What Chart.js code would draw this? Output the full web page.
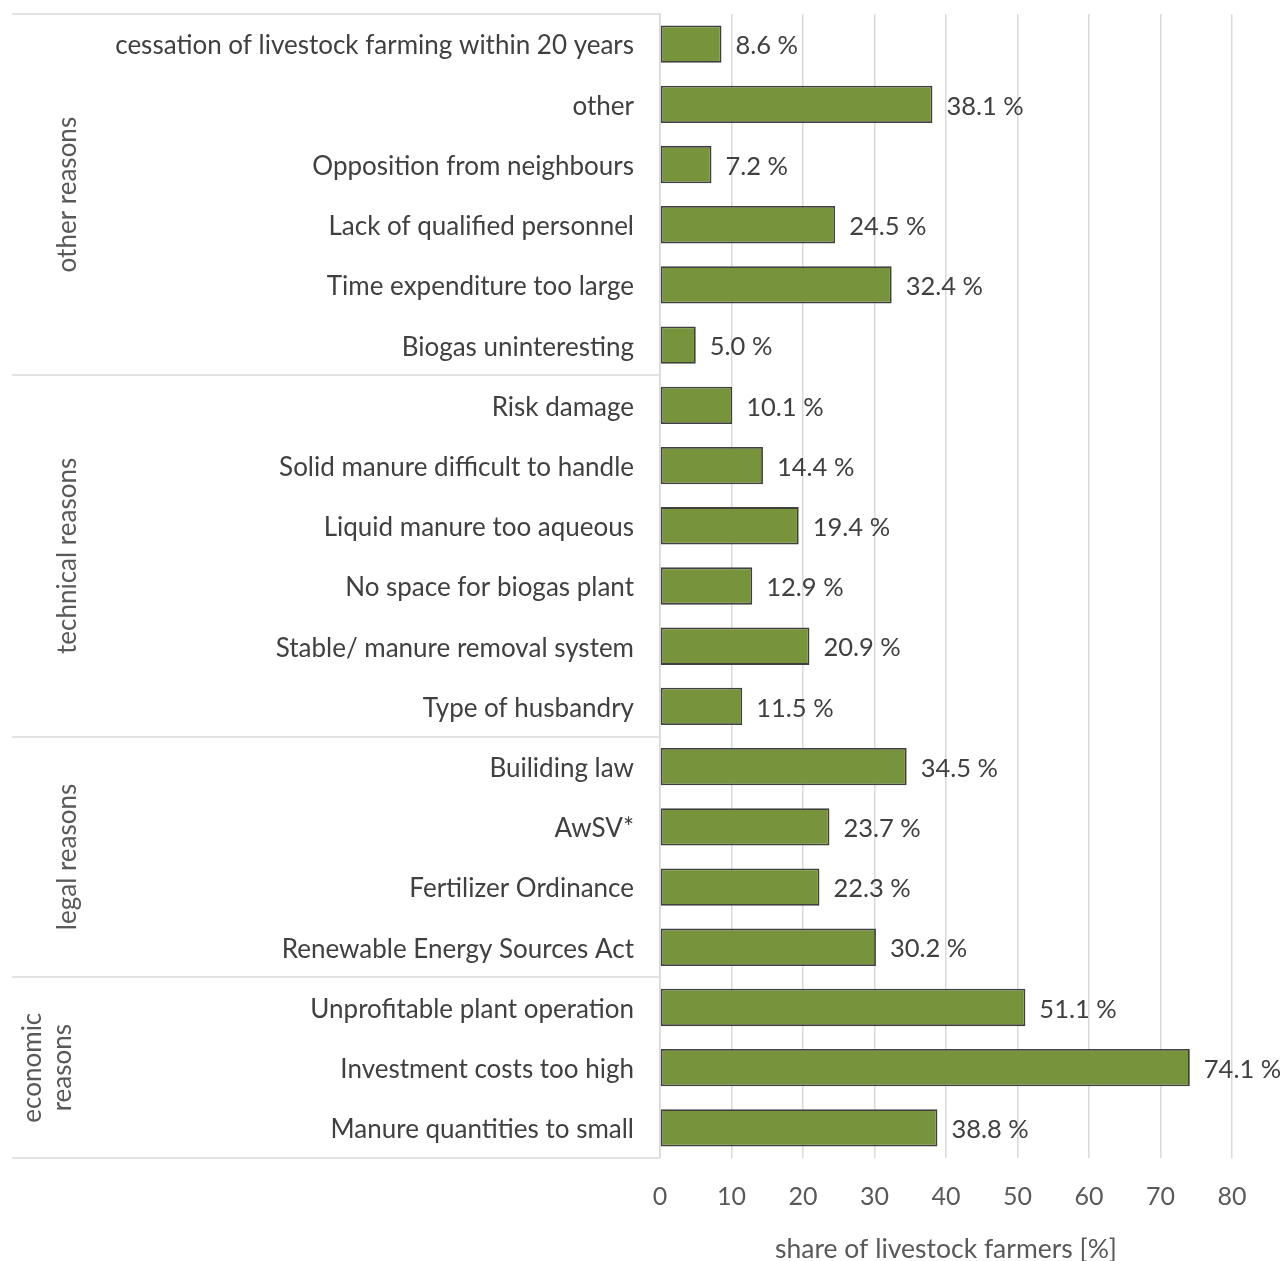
<!DOCTYPE html>
<html><head><meta charset="utf-8">
<script src="https://cdn.jsdelivr.net/npm/chart.js@4"></script>
<style>html,body{margin:0;padding:0;background:#fff}#wrap{width:1284px;height:1261px}</style>
</head><body><div id="wrap"><canvas id="c" width="1284" height="1261"></canvas></div>
<script>
const categories = ["cessation of livestock farming within 20 years","other","Opposition from neighbours","Lack of qualified personnel","Time expenditure too large","Biogas uninteresting","Risk damage","Solid manure difficult to handle","Liquid manure too aqueous","No space for biogas plant","Stable/ manure removal system","Type of husbandry","Builiding law","AwSV*","Fertilizer Ordinance","Renewable Energy Sources Act","Unprofitable plant operation","Investment costs too high","Manure quantities to small"];
const shares = [8.6,38.1,7.2,24.5,32.4,5.0,10.1,14.4,19.4,12.9,20.9,11.5,34.5,23.7,22.3,30.2,51.1,74.1,38.8];
const groupNames = [["other reasons"],["technical reasons"],["legal reasons"],["economic","reasons"]];
const groupStart = [0,6,12,16];
const groupEnd = [5,11,15,18];
const xTicks = [0,10,20,30,40,50,60,70,80];
const axisTitle = "share of livestock farmers [%]";

const FONT = "Lato";
const extras = {
  id:'extras',
  afterDatasetsDraw(chart){
    const ctx = chart.ctx, y = chart.scales.y, x = chart.scales.x, ca = chart.chartArea;
    ctx.save();
    ctx.font = "25.5px "+FONT; ctx.fillStyle="#404040"; ctx.textBaseline="middle"; ctx.textAlign="left";
    shares.forEach((v,i)=>{ ctx.fillText(v.toFixed(1)+" %", x.getPixelForValue(v)+14, y.getPixelForValue(i)+2); });
    ctx.strokeStyle="#d9d9d9"; ctx.lineWidth=1.5;
    const bounds = [groupStart[0]-0.5].concat(groupEnd.map(e=>e+0.5));
    bounds.forEach(b=>{ const py=Math.round(y.getPixelForValue(b)); ctx.beginPath(); ctx.moveTo(12,py); ctx.lineTo(ca.left,py); ctx.stroke(); });
    ctx.fillStyle="#595959"; ctx.font="26px "+FONT; ctx.textAlign="center"; ctx.textBaseline="middle";
    groupNames.forEach((lines,g)=>{
      const cy = (y.getPixelForValue(groupStart[g]-0.5)+y.getPixelForValue(groupEnd[g]+0.5))/2;
      const lh = 30;
      const base = lines.length>1 ? 48 : 68;
      lines.forEach((t,k)=>{
        const cx = base + (k-(lines.length-1)/2)*lh;
        ctx.save(); ctx.translate(cx,cy); ctx.rotate(-Math.PI/2); ctx.fillText(t,0,0); ctx.restore();
      });
    });
    ctx.restore();
  }
};

new Chart(document.getElementById('c'),{
  type:'bar',
  data:{labels:categories,datasets:[{data:shares,backgroundColor:'#77933C',borderColor:'#404040',borderWidth:1.8,borderSkipped:false,barPercentage:0.62,categoryPercentage:1}]},
  options:{
    indexAxis:'y',responsive:false,animation:false,
    layout:{padding:{top:14,right:52,left:0,bottom:0}},
    plugins:{legend:{display:false},tooltip:{enabled:false}},
    scales:{
      x:{min:0,max:80,afterBuildTicks(s){s.ticks=xTicks.map(v=>({value:v}));},
        grid:{color:'#d9d9d9',lineWidth:1.5,drawTicks:false},border:{display:false},
        ticks:{color:'#595959',font:{family:FONT,size:25},padding:24},
        title:{display:true,text:axisTitle,color:'#595959',font:{family:FONT,size:26.5},padding:{top:20,bottom:-4}},
        afterFit(s){s.height=103;s.paddingLeft=0;s.paddingRight=0;}},
      y:{grid:{display:false,drawTicks:false},border:{display:true,color:'#d9d9d9',width:1.5},
        ticks:{color:'#404040',font:{family:FONT,size:26},padding:26,autoSkip:false,labelOffset:2},
        afterFit(s){s.width=660;s.paddingTop=0;s.paddingBottom=0;}}
    }
  },
  plugins:[extras]
});
</script></body></html>
